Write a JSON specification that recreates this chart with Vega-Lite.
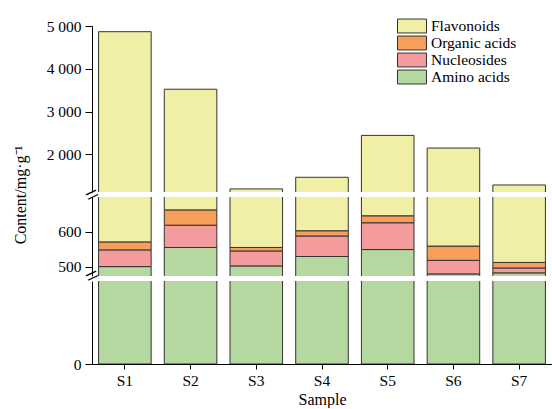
{
  "$schema": "https://vega.github.io/schema/vega-lite/v6.json",
  "padding": {"left": 12, "top": 18, "right": 0, "bottom": 0},
  "bounds": "flush",
  "config": {
    "view": {"stroke": null},
    "font": "Liberation Serif",
    "axis": {"grid": false, "domainColor": "#000", "tickColor": "#000", "labelFont": "Liberation Serif", "labelFontSize": 15.5, "labelColor": "#000", "titleFont": "Liberation Serif", "titleFontSize": 16, "titleFontWeight": "normal", "titleColor": "#000"},
    "axisX": {"labelFont": "Liberation Serif"},
    "axisY": {"labelFont": "Liberation Serif"},
    "concat": {"spacing": 5}
  },
  "datasets": {
    "d": [
      {"sample": "S1", "compound": "Amino acids", "value": 500},
      {"sample": "S1", "compound": "Nucleosides", "value": 48},
      {"sample": "S1", "compound": "Organic acids", "value": 23},
      {"sample": "S1", "compound": "Flavonoids", "value": 4296},
      {"sample": "S2", "compound": "Amino acids", "value": 555},
      {"sample": "S2", "compound": "Nucleosides", "value": 64},
      {"sample": "S2", "compound": "Organic acids", "value": 44},
      {"sample": "S2", "compound": "Flavonoids", "value": 2859},
      {"sample": "S3", "compound": "Amino acids", "value": 502},
      {"sample": "S3", "compound": "Nucleosides", "value": 43},
      {"sample": "S3", "compound": "Organic acids", "value": 10},
      {"sample": "S3", "compound": "Flavonoids", "value": 637},
      {"sample": "S4", "compound": "Amino acids", "value": 529},
      {"sample": "S4", "compound": "Nucleosides", "value": 59},
      {"sample": "S4", "compound": "Organic acids", "value": 15},
      {"sample": "S4", "compound": "Flavonoids", "value": 861},
      {"sample": "S5", "compound": "Amino acids", "value": 549},
      {"sample": "S5", "compound": "Nucleosides", "value": 77},
      {"sample": "S5", "compound": "Organic acids", "value": 20},
      {"sample": "S5", "compound": "Flavonoids", "value": 1797},
      {"sample": "S6", "compound": "Amino acids", "value": 479},
      {"sample": "S6", "compound": "Nucleosides", "value": 39},
      {"sample": "S6", "compound": "Organic acids", "value": 41},
      {"sample": "S6", "compound": "Flavonoids", "value": 1588},
      {"sample": "S7", "compound": "Amino acids", "value": 482},
      {"sample": "S7", "compound": "Nucleosides", "value": 14},
      {"sample": "S7", "compound": "Organic acids", "value": 16},
      {"sample": "S7", "compound": "Flavonoids", "value": 772}
    ]
  },
  "data": {"name": "d"},
  "transform": [{"calculate": "indexof(['Amino acids','Nucleosides','Organic acids','Flavonoids'], datum.compound)", "as": "k"}],
  "vconcat": [
    {
      "width": 460, "height": 166,
      "layer": [
        {
          "mark": {"type": "bar", "clip": true, "stroke": "#333", "strokeWidth": 1},
          "encoding": {
            "x": {"field": "sample", "type": "nominal", "scale": {"paddingInner": 0.2, "paddingOuter": 0.1}, "axis": null},
            "y": {"field": "value", "type": "quantitative", "stack": "zero", "scale": {"domain": [1120, 5000], "nice": false, "zero": false},
                  "axis": {"values": [2000, 3000, 4000, 5000], "labelExpr": "replace(format(datum.value, ','), ',', ' ')", "labelFont": "Liberation Serif", "tickSize": 7, "labelPadding": 4, "title": null}},
            "color": {"field": "compound", "type": "nominal",
                      "scale": {"domain": ["Flavonoids", "Organic acids", "Nucleosides", "Amino acids"], "range": ["#F1EFA5", "#F89E5B", "#F49B9D", "#B4D8A0"]},
                      "legend": {"orient": "none", "legendX": 312, "legendY": -8, "title": null, "symbolType": "M-2,-0.96H2V0.96H-2Z", "symbolSize": 210, "symbolStrokeColor": "#333", "symbolStrokeWidth": 1, "symbolOpacity": 1, "labelFont": "Liberation Serif", "labelFontSize": 15.5, "labelColor": "#000", "labelOffset": 11, "rowPadding": -2.5, "padding": 0}},
            "order": {"field": "k", "type": "quantitative"}
          }
        },
        {
          "mark": {"type": "bar", "clip": true, "opacity": 0},
          "encoding": {
            "x": {"field": "sample", "type": "nominal", "axis": null},
            "y": {"field": "value", "type": "quantitative", "stack": "zero",
                  "axis": {"orient": "left", "values": [1120], "labelExpr": "'='", "labelFont": "Liberation Serif", "ticks": false, "domain": false, "labelAngle": -25, "labelAlign": "center", "labelBaseline": "middle", "labelPadding": 0, "labelFontSize": 24, "labelOffset": 3, "title": null}}
          }
        }
      ],
      "resolve": {"axis": {"y": "independent"}}
    },
    {
      "width": 460, "height": 79,
      "layer": [
        {
          "mark": {"type": "bar", "clip": true, "stroke": "#333", "strokeWidth": 1},
          "encoding": {
            "x": {"field": "sample", "type": "nominal", "scale": {"paddingInner": 0.2, "paddingOuter": 0.1}, "axis": null},
            "y": {"field": "value", "type": "quantitative", "stack": "zero", "scale": {"domain": [473, 700], "nice": false, "zero": false},
                  "axis": {"values": [500, 600], "labelFont": "Liberation Serif", "tickSize": 7, "labelPadding": 4, "title": "Content/mg·g⁻¹", "titleX": -71.5, "titleY": -2.5, "titleAngle": 270, "titleAlign": "center", "titleBaseline": "middle"}},
            "color": {"field": "compound", "type": "nominal", "legend": null},
            "order": {"field": "k", "type": "quantitative"}
          }
        },
        {
          "mark": {"type": "bar", "clip": true, "opacity": 0},
          "encoding": {
            "x": {"field": "sample", "type": "nominal", "axis": null},
            "y": {"field": "value", "type": "quantitative", "stack": "zero",
                  "axis": {"orient": "left", "values": [473], "labelExpr": "'='", "labelFont": "Liberation Serif", "ticks": false, "domain": false, "labelAngle": -25, "labelAlign": "center", "labelBaseline": "middle", "labelPadding": 0, "labelFontSize": 24, "labelOffset": 0, "title": null}}
          }
        }
      ],
      "resolve": {"axis": {"y": "independent"}}
    },
    {
      "width": 460, "height": 83,
      "mark": {"type": "bar", "clip": true, "stroke": "#333", "strokeWidth": 1},
      "encoding": {
        "x": {"field": "sample", "type": "nominal", "scale": {"paddingInner": 0.2, "paddingOuter": 0.1},
              "axis": {"labelAngle": 0, "labelFont": "Liberation Serif", "tickSize": 5, "labelPadding": 4, "title": "Sample", "titlePadding": 3}},
        "y": {"field": "value", "type": "quantitative", "stack": "zero", "scale": {"domain": [0, 473], "nice": false, "zero": false},
              "axis": {"values": [0], "labelFont": "Liberation Serif", "tickSize": 7, "labelPadding": 4, "title": null}},
        "color": {"field": "compound", "type": "nominal", "legend": null},
        "order": {"field": "k", "type": "quantitative"}
      }
    }
  ],
  "resolve": {"scale": {"y": "independent"}, "legend": {"color": "independent"}}
}
